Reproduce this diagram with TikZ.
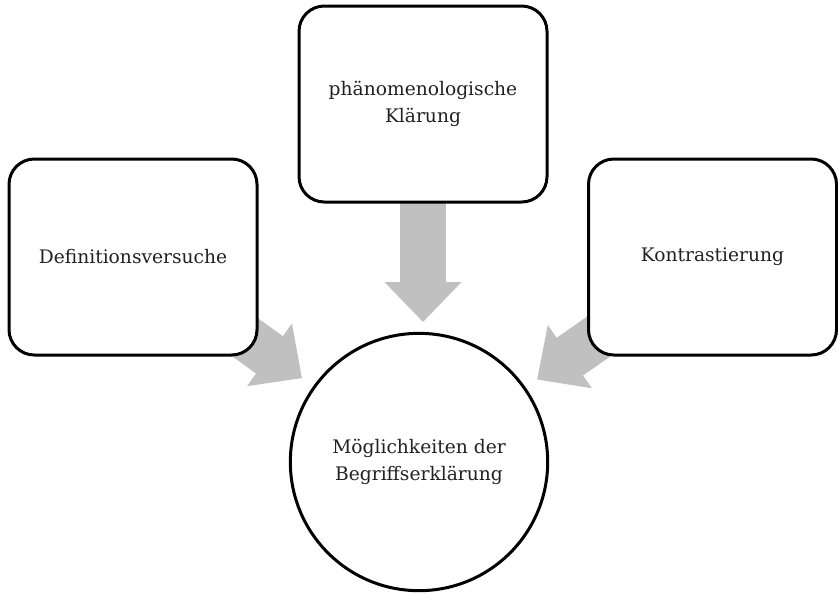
\documentclass[tikz,border=0pt]{standalone}
\usepackage{fontspec}
\setmainfont{DejaVu Serif}
\usepackage{xcolor}
\usetikzlibrary{arrows.meta, backgrounds, calc}

\definecolor{arrowgray}{RGB}{192,192,192}
\definecolor{textdark}{RGB}{34,34,34}

\tikzset{
    topic/.style={draw, line width=2.25pt, rounded corners=19pt, fill=white,
        minimum width=186pt, minimum height=147pt, align=center,
        text=textdark, font=\fontsize{14}{20.5}\selectfont},
    centre/.style={draw, circle, line width=2.25pt, fill=white,
        minimum size=193pt, align=center, inner sep=0pt,
        text=textdark, font=\fontsize{14}{20.5}\selectfont},
    bigarrow/.style={draw=arrowgray, line width=34.5pt,
        -{Triangle[length=30pt, width=56pt, fill=arrowgray]}},
}

\begin{document}
\begin{tikzpicture}[x=0.75pt, y=-0.75pt]
            \useasboundingbox (0,0) rectangle (838,594);
                % Outer boxes
                \node[topic] (defin) at (133, 257) {Definitionsversuche};
                \node[topic] (phaen) at (423, 104) {phänomenologische\\Klärung};
                \node[topic] (kontr) at (712.5, 257) {Kontrastierung};
                % Centre
                \node[centre] (moegl) at (419, 462) {Möglichkeiten der\\Begriffserklärung};
                % Arrows
                \begin{scope}[on background layer]
                \draw[bigarrow, shorten >=108pt] (defin.center) -- (moegl.center);
                \draw[bigarrow, shorten >=105pt] (phaen.center) -- (phaen.center |- moegl.center);
                \draw[bigarrow, shorten >=108pt] (kontr.center) -- (moegl.center);
                \end{scope}
        \end{tikzpicture}
\end{document}
